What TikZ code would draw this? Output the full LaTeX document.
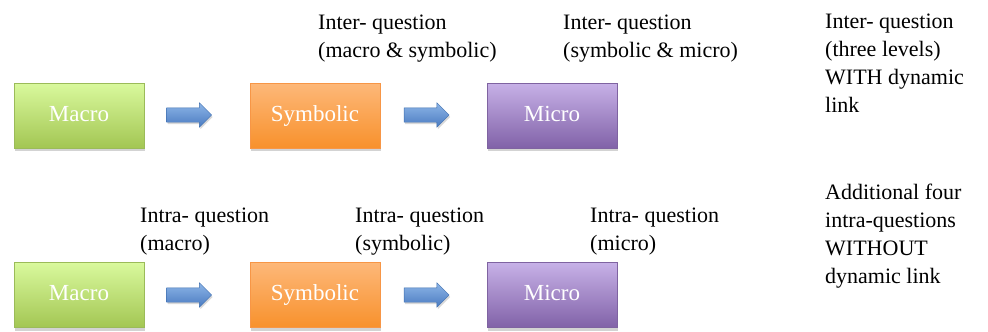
\documentclass[tikz,border=0pt]{standalone}
\usepackage{fontspec}
\setmainfont{Liberation Serif}
\usepackage{tikz}
\usetikzlibrary{positioning}
\usetikzlibrary{shapes.arrows,shadows}
\definecolor{macrotop}{HTML}{D9F99D}
\definecolor{macrobot}{HTML}{A3C653}
\definecolor{macroline}{HTML}{9BBB59}
\definecolor{symtop}{HTML}{FDB879}
\definecolor{symbot}{HTML}{F8912C}
\definecolor{symline}{HTML}{F79646}
\definecolor{mictop}{HTML}{C7B1E7}
\definecolor{micbot}{HTML}{8162A8}
\definecolor{micline}{HTML}{7F63A1}
\definecolor{arrtop}{HTML}{8DB5E7}
\definecolor{arrbot}{HTML}{4A7BC1}
\definecolor{arrline}{HTML}{3E6EAE}

\begin{document}
\begin{tikzpicture}[x=1pt,y=-1pt]
\tikzstyle{level}=[rectangle, minimum width=130pt, minimum height=65pt, text=white, font=\fontsize{23}{26}\selectfont, text height=15pt, text depth=4pt, drop shadow={shadow xshift=1pt, shadow yshift=-3pt, opacity=0.35}]
\tikzstyle{macro}=[level, top color=macrotop, bottom color=macrobot, draw=macroline]
\tikzstyle{sym}=[level, top color=symtop, bottom color=symbot, draw=symline]
\tikzstyle{mic}=[level, top color=mictop, bottom color=micbot, draw=micline]
\tikzstyle{flow}=[single arrow, minimum height=45pt, inner xsep=0pt, inner ysep=7pt, single arrow head extend=5pt, top color=arrtop, bottom color=arrbot, draw=arrline, drop shadow={shadow xshift=1pt, shadow yshift=-2pt, opacity=0.3}]
\tikzstyle{note}=[align=left, anchor=base west, inner sep=0pt, font=\fontsize{22}{28}\selectfont]
\useasboundingbox (0,0) rectangle (988,332);
	% inter-questions
	\node[macro] (mac_1) at (79,115.5) {Macro};
	\node[flow] (arr_1) at (185.5,115) {};
	\node[sym] (sym_1) at (315,115.5) {Symbolic};
	\node[flow] (arr_2) at (423,115) {};
	\node[mic] (mic_1) at (552,115.5) {Micro};

	% base = last line
	\node[note] (q_1) at (318,57) {Inter- question\\(macro \& symbolic)};
	\node[note] (q_2) at (563,57) {Inter- question\\(symbolic \& micro)};
	\node[note] (q_3) at (825,112) {Inter- question\\(three levels)\\WITH dynamic\\link};

	% intra-questions
	\node[macro] (mac_2) at (79,295) {Macro};
	\node[flow] (arr_3) at (185.5,295) {};
	\node[sym] (sym_2) at (315,295) {Symbolic};
	\node[flow] (arr_4) at (423,295) {};
	\node[mic] (mic_2) at (552,295) {Micro};

	\node[note] (p_1) at (140,250) {Intra- question\\(macro)};
	\node[note] (p_2) at (355,250) {Intra- question\\(symbolic)};
	\node[note] (p_3) at (590,250) {Intra- question\\(micro)};
	\node[note] (p_4) at (825,283) {Additional four\\intra-questions\\WITHOUT\\dynamic link};
\end{tikzpicture}
\end{document}
